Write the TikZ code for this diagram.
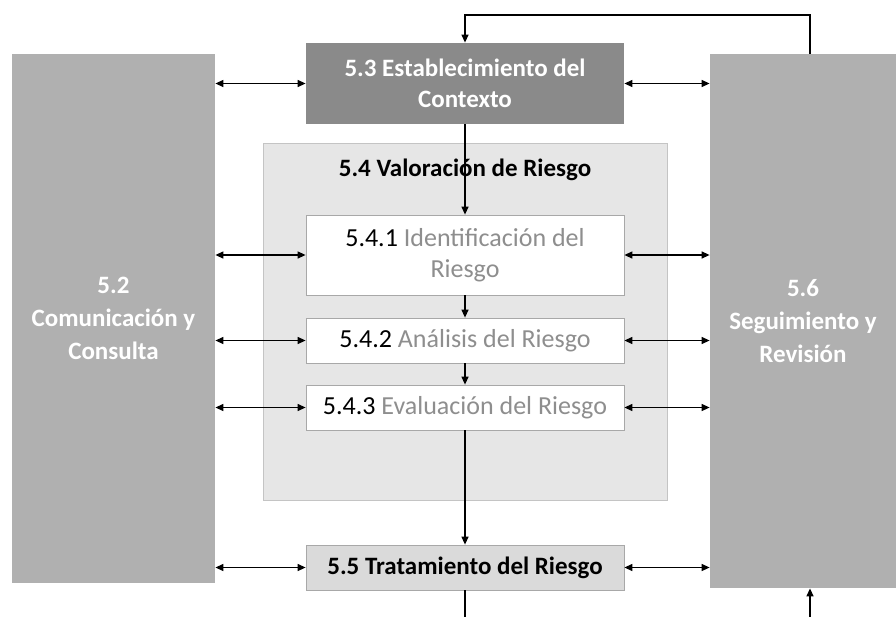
\documentclass[tikz,border=0pt]{standalone}
\usepackage{fontspec}
\setmainfont{Carlito}
\usetikzlibrary{arrows.meta}
\definecolor{sidegray}{HTML}{B0B0B0}
\definecolor{ctxgray}{HTML}{8A8A8A}
\definecolor{valgray}{HTML}{E6E6E6}
\definecolor{valborder}{HTML}{C4C4C4}
\definecolor{subborder}{HTML}{A8A8A8}
\definecolor{tratgray}{HTML}{DADADA}
\definecolor{txtgray}{HTML}{8E8E8E}
\tikzset{
  box/.style={draw=subborder, line width=0.8pt, inner sep=0pt, align=center,
    font=\fontsize{26}{31}\selectfont},
  sidebox/.style={box, draw=none, fill=sidegray, text=white, font=\bfseries\fontsize{25}{33}\selectfont},
  subbox/.style={box, fill=white, minimum width=318pt},
  arr/.style={line width=1.3pt, -{Triangle[length=8pt,width=7pt]}},
  darr/.style={line width=1.3pt, {Triangle[length=8pt,width=7pt]}-{Triangle[length=8pt,width=7pt]}},
  line/.style={line width=1.3pt}
}
\begin{document}
\begin{tikzpicture}[x=1pt,y=-1pt]
\path[use as bounding box, clip] (0,0) rectangle (896,616);
\fill[white] (0,0) rectangle (896,616);
% side boxes
\node[sidebox, minimum width=203pt, minimum height=529pt] (L) at (113.5,318.5)
  {5.2\\Comunicación y\\Consulta};
\node[sidebox, minimum width=186pt, minimum height=534pt] (R) at (803,321)
  {5.6\\Seguimiento y\\Revisión};
% context
\node[box, draw=none, fill=ctxgray, text=white, font=\bfseries\fontsize{25}{31}\selectfont,
  minimum width=318pt, minimum height=81pt] (E) at (465,83.5)
  {5.3 Establecimiento del\\Contexto};
% valoracion
\node[box, draw=valborder, fill=valgray, minimum width=404pt, minimum height=357pt] (V) at (465,321.5) {};
\node[font=\bfseries\fontsize{25}{30}\selectfont, inner sep=0pt] (VT) at (465,170) {5.4 Valoración de Riesgo};
\node[subbox, minimum height=80pt] (I) at (465,255)
  {5.4.1 \textcolor{txtgray}{Identificación del}\\\textcolor{txtgray}{Riesgo}};
\node[subbox, minimum height=45pt] (A) at (465,340.5)
  {5.4.2 \textcolor{txtgray}{Análisis del Riesgo}};
\node[subbox, minimum height=45pt] (Ev) at (465,407.5)
  {5.4.3 \textcolor{txtgray}{Evaluación del Riesgo}};
% tratamiento
\node[box, fill=tratgray, font=\bfseries\fontsize{25}{30}\selectfont,
  minimum width=318pt, minimum height=45pt] (T) at (465,567.5)
  {5.5 Tratamiento del Riesgo};
% vertical arrows
\draw[arr] (E.south) -- (I.north);
\draw[arr] (I.south) -- (A.north);
\draw[arr] (A.south) -- (Ev.north);
\draw[arr] (Ev.south) -- (T.north);
% horizontal double arrows
\foreach \n in {E,I,A,Ev,T}{
  \draw[darr] (L.east |- \n.west) -- (\n.west);
  \draw[darr] (\n.east) -- (R.west |- \n.east);
}
% feedback loops
\coordinate (tp) at (810,15);
\coordinate (bp) at (810,630);
\draw[arr] (tp |- R.north) -- (tp) -| (E.north);
\draw[line] (T.south) -- (T.south |- bp) -- (bp);
\draw[arr] (bp) -- (bp |- R.south);
\end{tikzpicture}
\end{document}
